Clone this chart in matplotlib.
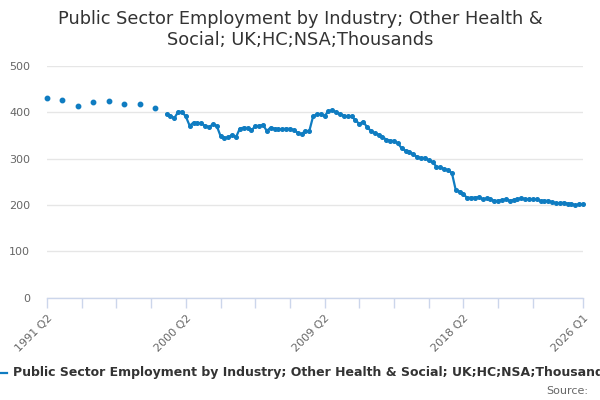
import numpy as np
import matplotlib
matplotlib.use("Agg")
import matplotlib.pyplot as plt
from matplotlib.lines import Line2D

# ============================================================
# DATA (thousands, UK headcount, not seasonally adjusted)
# ============================================================

# annual observations (Q2 of each year), 1991-1998
annual_quarter = [0, 4, 8, 12, 16, 20, 24, 28]
annual_values = [431, 427, 413, 422, 425, 419, 419, 410]

# quarterly observations from 1999 Q1 (index 31) to 2026 Q1 (index 139)
quarterly_start = 31
quarterly_values = [
    396, 393, 387, 401, 401, 391, 371, 378, 377, 376,
    371, 368, 374, 371, 349, 345, 346, 351, 346, 365,
    367, 366, 361, 370, 371, 373, 360, 367, 365, 364,
    363, 365, 364, 362, 356, 353, 360, 359, 391, 396,
    396, 392, 403, 404, 400, 396, 393, 391, 391, 383,
    375, 380, 368, 360, 355, 352, 347, 341, 339, 338,
    333, 322, 317, 315, 309, 304, 301, 302, 296, 292,
    283, 281, 278, 275, 269, 232, 229, 223, 215, 216,
    216, 217, 212, 214, 212, 209, 209, 211, 212, 209,
    211, 213, 214, 213, 212, 212, 212, 209, 209, 209,
    206, 204, 204, 205, 203, 203, 199, 202, 201,
]
quarterly_quarter = list(range(quarterly_start, quarterly_start + len(quarterly_values)))

tick_positions = [0, 36, 72, 108, 139]
tick_labels = ["1991 Q2", "2000 Q2", "2009 Q2", "2018 Q2", "2026 Q1"]
minor_positions = [0, 9, 18, 27, 36, 45, 54, 63, 72, 81, 90, 99, 108, 117, 126, 139]

title = "Public Sector Employment by Industry; Other Health &\nSocial; UK;HC;NSA;Thousands"
series_name = "Public Sector Employment by Industry; Other Health & Social; UK;HC;NSA;Thousands"

# ============================================================
# CHART
# ============================================================

LINE_COLOR = "#0f7cc1"
GRID_COLOR = "#e6e6e6"
AXIS_COLOR = "#ccd6eb"
LABEL_COLOR = "#666666"

fig = plt.figure(figsize=(6, 4), dpi=100)
ax = fig.add_axes([0.0783, 0.256, 0.8934, 0.579])

ax.plot(annual_quarter, annual_values, linestyle="none", marker="o",
        markersize=3.2, color=LINE_COLOR, clip_on=False)
ax.plot(quarterly_quarter, quarterly_values, linestyle="-", linewidth=1.6,
        marker="o", markersize=2.6, color=LINE_COLOR, clip_on=False)

ax.set_xlim(0, 139)
ax.set_ylim(0, 500)
ax.set_yticks([0, 100, 200, 300, 400, 500])
ax.grid(axis="y", color=GRID_COLOR, linewidth=1)
ax.set_axisbelow(True)

ax.set_xticks(minor_positions, minor=True)
ax.set_xticks(tick_positions)
ax.set_xticklabels(tick_labels, rotation=45, ha="right", rotation_mode="anchor")

for side in ["top", "right", "left"]:
    ax.spines[side].set_visible(False)
ax.spines["bottom"].set_color(AXIS_COLOR)
ax.spines["bottom"].set_linewidth(1)

ax.tick_params(axis="y", length=0, pad=12, labelsize=8, labelcolor=LABEL_COLOR)
ax.tick_params(axis="x", which="both", length=7, width=1, color=AXIS_COLOR,
               labelsize=8, labelcolor=LABEL_COLOR, pad=4)

fig.text(0.5, 0.975, title, ha="center", va="top", fontsize=12.8,
         color="#333333", linespacing=1.2)

# legend entry (runs off the right edge as in the original)
fig.add_artist(Line2D([-0.01, 0.012], [0.068, 0.068], color=LINE_COLOR,
                      linewidth=1.6, transform=fig.transFigure))
fig.text(0.022, 0.068, series_name, ha="left", va="center", fontsize=9,
         fontweight="bold", color="#333333")

fig.text(0.98, 0.022, "Source:", ha="right", va="center", fontsize=8,
         color=LABEL_COLOR)

fig.savefig("out.png", dpi=100)
